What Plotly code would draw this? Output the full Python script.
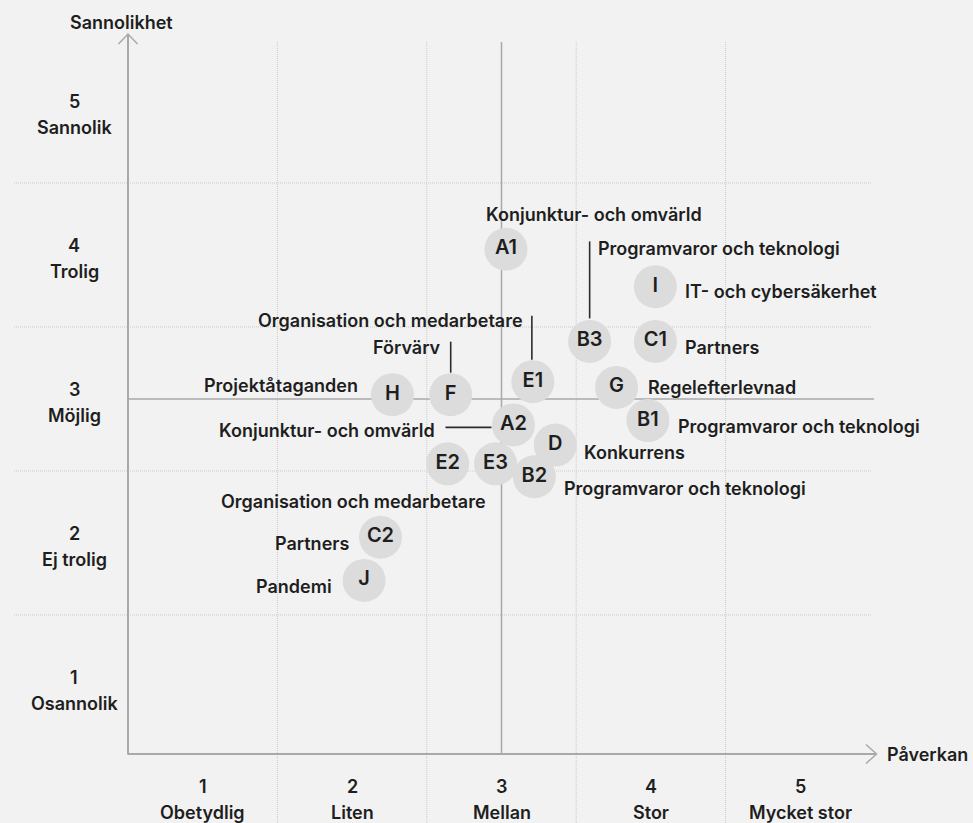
import plotly.graph_objects as go

# ---------------- data ----------------
codes = ["A1", "I", "B3", "C1", "E1", "G", "H", "F", "A2", "B1", "E2", "E3", "D", "B2", "C2", "J"]
impact = [3.03, 4.03, 3.59, 4.03, 3.21, 3.77, 2.27, 2.66, 3.08, 3.98, 2.64, 2.96, 3.36, 3.22, 2.19, 2.08]
likelihood = [4.04, 3.78, 3.40, 3.40, 3.12, 3.08, 3.03, 3.03, 2.82, 2.85, 2.55, 2.55, 2.68, 2.46, 2.04, 1.74]
categories = [
    "Konjunktur- och omvärld", "IT- och cybersäkerhet", "Programvaror och teknologi", "Partners",
    "Organisation och medarbetare", "Regelefterlevnad", "Projektåtaganden", "Förvärv",
    "Konjunktur- och omvärld", "Programvaror och teknologi", "Organisation och medarbetare", "",
    "Konkurrens", "Programvaror och teknologi", "Partners", "Pandemi",
]
impact_levels = ["Obetydlig", "Liten", "Mellan", "Stor", "Mycket stor"]
likelihood_levels = ["Osannolik", "Ej trolig", "Möjlig", "Trolig", "Sannolik"]
x_title = "Påverkan"
y_title = "Sannolikhet"

# ---------------- layout helpers (pixel offsets, not data) ----------------
# label offset from bubble centre: dx (px, right), dy (px, down), anchor
label_pos = {
    "A1": (-22, -35, "left"), "B3": (6, -93, "left"), "I": (28, 5, "left"),
    "C1": (28, 6, "left"), "E1": (-8, -61, "right"), "F": (-8, -47, "right"),
    "H": (-32, -9, "right"), "A2": (-76, 6, "right"), "G": (29, 0, "left"),
    "B1": (28, 6, "left"), "D": (27, 7, "left"), "B2": (28, 12, "left"),
    "E2": (-94, 38, "center"), "C2": (-29, 6, "right"), "J": (-30, 6, "right"),
}
# leader lines in px relative to bubble centre (x right, y down)
leaders = {
    "B3": ((0, -100), (0, -23)),
    "E1": ((-1, -66), (-1, -22)),
    "F": ((0, -53), (0, -22)),
    "A2": ((-68, 2.5), (-22, 2.5)),
}

W, H = 973, 823
L, R, T, B = 128, 98, 39, 64
PW, PH = W - L - R, H - T - B

def px_x(px):
    return (px - L) / PW

def px_y(py):
    return (H - B - py) / PH

BG = "#f2f2f2"
TXT = "#1e1e1e"
AX = "#a9a9a9"
GRID = "#cbcbcb"
FONT = "Inter"
FS = 18
FW = 600

def tfont(size=FS):
    return dict(family=FONT, size=size, color=TXT, weight=FW)

fig = go.Figure()
fig.add_trace(go.Scatter(
    x=impact, y=likelihood, mode="markers+text", text=codes,
    textposition="middle center",
    marker=dict(size=43, color="#dcdcdc", line=dict(width=0)),
    textfont=tfont(20),
    hoverinfo="skip", showlegend=False,
))

shapes = []
# dotted grid
for v in [1.5, 2.5, 3.5, 4.5]:
    shapes.append(dict(type="line", xref="x", yref="paper", x0=v, x1=v,
                       y0=px_y(823), y1=px_y(42),
                       line=dict(color=GRID, width=1, dash="1px,1px"), layer="below"))
    shapes.append(dict(type="line", xref="paper", yref="y", y0=v, y1=v,
                       x0=px_x(14), x1=px_x(872),
                       line=dict(color=GRID, width=1, dash="1px,1px"), layer="below"))
# centre lines
shapes.append(dict(type="line", xref="x", yref="paper", x0=3, x1=3, y0=px_y(754), y1=px_y(42),
                   line=dict(color=AX, width=1.5), layer="below"))
shapes.append(dict(type="line", xref="paper", yref="y", y0=3, y1=3, x0=px_x(128), x1=px_x(874),
                   line=dict(color=AX, width=1.5), layer="below"))
# axes
shapes.append(dict(type="line", xref="paper", yref="paper", x0=px_x(127.5), x1=px_x(876),
                   y0=px_y(754), y1=px_y(754), line=dict(color=AX, width=2)))
shapes.append(dict(type="line", xref="paper", yref="paper", x0=px_x(128), x1=px_x(128),
                   y0=px_y(754), y1=px_y(34), line=dict(color=AX, width=2)))
# arrow heads
shapes.append(dict(type="path", xref="paper", yref="paper",
                   path=f"M {px_x(866)} {px_y(744.5)} L {px_x(876.5)} {px_y(754)} L {px_x(866)} {px_y(763.5)}",
                   line=dict(color=AX, width=1.5)))
shapes.append(dict(type="path", xref="paper", yref="paper",
                   path=f"M {px_x(118.5)} {px_y(44)} L {px_x(128)} {px_y(34)} L {px_x(137.5)} {px_y(44)}",
                   line=dict(color=AX, width=1.5)))
# leader lines
for code, ((ax0, ay0), (ax1, ay1)) in leaders.items():
    i = codes.index(code)
    shapes.append(dict(type="line", xref="x", yref="y",
                       xsizemode="pixel", ysizemode="pixel",
                       xanchor=impact[i], yanchor=likelihood[i],
                       x0=ax0, x1=ax1, y0=-ay0, y1=-ay1,
                       line=dict(color="#2b2b2b", width=1.6)))

annotations = []
for code, (dx, dy, anc) in label_pos.items():
    i = codes.index(code)
    annotations.append(dict(x=impact[i], y=likelihood[i], xref="x", yref="y",
                            text=categories[i], showarrow=False,
                            xanchor=anc, yanchor="middle", xshift=dx, yshift=-dy,
                            font=tfont()))
# x tick labels
for k, name in enumerate(impact_levels, start=1):
    annotations.append(dict(x=k, y=px_y(786), xref="x", yref="paper", text=str(k),
                            showarrow=False, xanchor="center", yanchor="middle", font=tfont()))
    annotations.append(dict(x=k, y=px_y(812), xref="x", yref="paper", text=name,
                            showarrow=False, xanchor="center", yanchor="middle", font=tfont()))
# y tick labels
for k, name in enumerate(likelihood_levels, start=1):
    annotations.append(dict(x=px_x(74), y=k, xref="paper", yref="y", text=str(k),
                            showarrow=False, xanchor="center", yanchor="middle", yshift=10,
                            font=tfont()))
    annotations.append(dict(x=px_x(74), y=k, xref="paper", yref="y", text=name,
                            showarrow=False, xanchor="center", yanchor="middle", yshift=-16.5,
                            font=tfont()))
# axis titles
annotations.append(dict(x=px_x(121), y=px_y(22), xref="paper", yref="paper", text=y_title,
                        showarrow=False, xanchor="center", yanchor="middle", font=tfont()))
annotations.append(dict(x=px_x(885), y=px_y(754), xref="paper", yref="paper", text=x_title,
                        showarrow=False, xanchor="left", yanchor="middle", font=tfont()))

fig.update_layout(
    width=W, height=H,
    margin=dict(l=L, r=R, t=T, b=B, pad=0),
    paper_bgcolor=BG, plot_bgcolor=BG,
    xaxis=dict(range=[0.5, 5.5], visible=False, fixedrange=True),
    yaxis=dict(range=[0.5, 5.5], visible=False, fixedrange=True),
    shapes=shapes, annotations=annotations,
    showlegend=False,
)

fig.write_html("out.html", config={"displayModeBar": False},
               post_script="document.body.style.margin='0';document.body.style.background='#f2f2f2';")
